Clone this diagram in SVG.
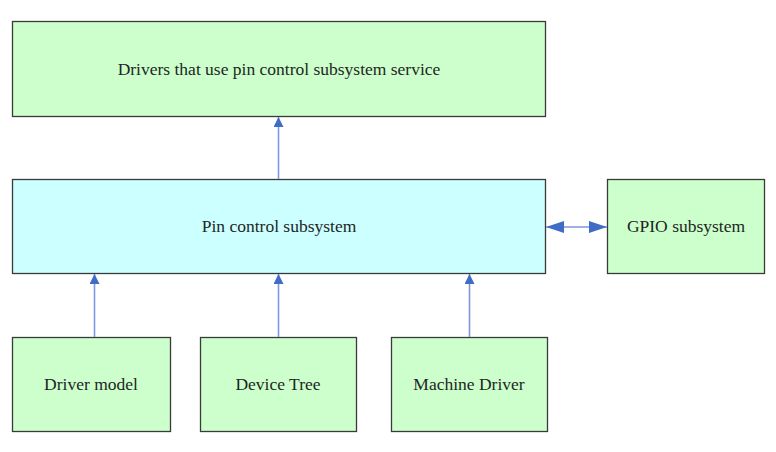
<svg xmlns="http://www.w3.org/2000/svg" width="776" height="452" viewBox="0 0 776 452">
<defs>
<style>
.box{stroke:#3a3a3a;stroke-width:1.3}
.g{fill:#ccffcc}
.c{fill:#ccffff}
.t{font-family:'Liberation Serif','Times New Roman',serif;font-size:17.5px;fill:#1e261e;text-anchor:middle;dominant-baseline:central}
.ln{stroke:#8096dc;stroke-width:1.6;fill:none}
</style>
<marker id="ah" viewBox="0 0 10 10" refX="10" refY="5" markerWidth="10" markerHeight="10" markerUnits="userSpaceOnUse" orient="auto-start-reverse">
<path d="M0,0 L10,5 L0,10 Z" fill="#3f6cc4"/>
</marker>
<marker id="ah2" viewBox="0 0 18 12" refX="18" refY="6" markerWidth="18" markerHeight="12" markerUnits="userSpaceOnUse" orient="auto-start-reverse">
<path d="M0,0 L18,6 L0,12 Z" fill="#3f6cc4"/>
</marker>
</defs>
<rect width="776" height="452" fill="#ffffff"/>
<g id="drivers-using">
<rect class="box g" x="12.5" y="21.5" width="533" height="95"/>
<text class="t" x="279" y="69" font-family="Liberation Serif, serif">Drivers that use pin control subsystem service</text>
</g>
<g id="pinctrl">
<rect class="box c" x="12.5" y="179.5" width="533" height="94"/>
<text class="t" x="279" y="226" font-family="Liberation Serif, serif">Pin control subsystem</text>
</g>
<g id="gpio">
<rect class="box g" x="607.5" y="179.5" width="157" height="94"/>
<text class="t" x="686" y="226" font-family="Liberation Serif, serif">GPIO subsystem</text>
</g>
<g id="driver-model">
<rect class="box g" x="12.5" y="337.5" width="158" height="94"/>
<text class="t" x="91" y="384" font-family="Liberation Serif, serif">Driver model</text>
</g>
<g id="device-tree">
<rect class="box g" x="200.5" y="337.5" width="156" height="94"/>
<text class="t" x="278" y="384" font-family="Liberation Serif, serif">Device Tree</text>
</g>
<g id="machine-driver">
<rect class="box g" x="391.5" y="337.5" width="156" height="94"/>
<text class="t" x="469" y="384" font-family="Liberation Serif, serif">Machine Driver</text>
</g>
<g id="connectors">
<line class="ln" x1="278.5" y1="179" x2="278.5" y2="117" marker-end="url(#ah)"/>
<line class="ln" x1="94.5" y1="337" x2="94.5" y2="274" marker-end="url(#ah)"/>
<line class="ln" x1="278.5" y1="337" x2="278.5" y2="274" marker-end="url(#ah)"/>
<line class="ln" x1="469.5" y1="337" x2="469.5" y2="274" marker-end="url(#ah)"/>
<line class="ln" x1="546" y1="227" x2="607" y2="227" marker-start="url(#ah2)" marker-end="url(#ah2)"/>
</g>
</svg>
